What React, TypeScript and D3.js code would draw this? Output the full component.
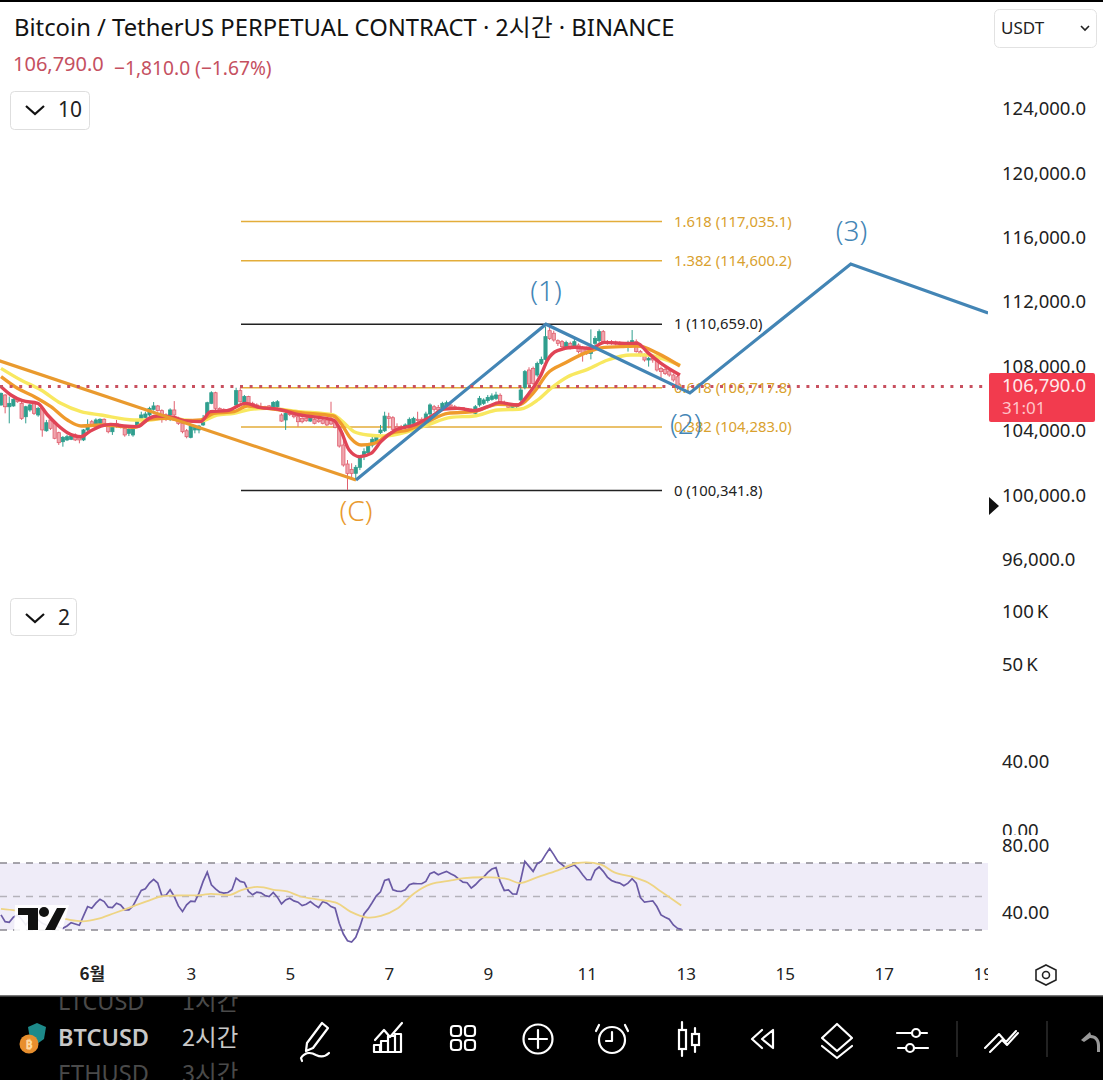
import React from "react";
import * as d3 from "d3";

const opens = [105650,106270,105540,105590,106060,105750,104920,105340,105750,105030,105440,104050,104720,104510,103930,103370,103480,103520,103790,103680,103480,104100,104610,104410,104510,104760,104340,103990,104510,104410,104200,103890,103790,104340,104820,104880,105030,105380,105590,105300,105030,105030,105340,104720,104510,104050,103640,104100,104100,104410,104880,105750,106410,105440,105380,105300,105300,105650,106540,105750,106170,105750,105650,105540,105540,105590,105540,105540,105030,104720,105170,105030,104920,104820,104820,104650,104760,104720,104720,104720,104720,104610,104200,103165,101985,101654,101410,101780,102440,102690,103160,103370,103930,104050,104920,104860,104300,104300,104260,104410,104510,104760,104760,104820,105090,105540,105500,105440,105540,105650,105540,105500,105480,105420,105380,105130,105650,105750,105920,106000,106060,106250,105790,105650,105500,105540,105960,106740,107820,107920,107510,108230,108480,110260,110100,109640,109580,109230,109475,109270,109370,109230,109165,108850,109475,109640,110200,109580,109580,109560,109520,109475,109370,109435,109580,108960,108750,108440,108544,108440,107920,107860,107760,107510,107400];
const closes = [106370,105540,105750,106000,105850,104820,105540,105650,105130,105440,104100,104550,104200,103580,103310,103640,103680,103720,103480,103480,104100,104410,104410,104720,104760,104510,103990,104260,104300,104260,103790,104140,104140,104610,105030,105090,105440,105590,105300,105030,104880,105340,105030,104510,103990,103680,104340,104300,104340,104820,105790,106410,105440,105230,105230,105210,105170,106540,105850,106170,105650,105540,105540,105440,105440,105440,105810,105850,104650,105130,105050,104920,104610,104610,104670,104820,104510,104610,104510,104410,104470,104260,103100,101923,101406,101406,101780,102340,102750,103100,103520,103640,104090,104960,104820,104140,104200,104200,104410,104760,104820,104680,104610,105090,105650,105380,105340,105750,105790,105540,105460,105440,105420,105380,105340,105540,106060,105960,106120,106210,106270,105850,105710,105500,105650,105650,106580,107720,106950,106990,108230,108480,109890,109780,109680,109475,109270,109520,109160,109580,108960,108850,108850,109060,109785,110200,109580,109475,109475,109435,109410,109410,109520,109640,108960,108750,108440,108544,108440,107820,107720,107610,107510,107200,106790];
const highs = [106420,106320,106170,106060,106120,105850,105600,105750,105800,105540,105500,104720,104820,104610,103990,103720,103790,103890,103890,103720,104160,104760,104720,104820,104820,104820,104410,104340,104720,104470,104280,104200,104200,104720,105230,105230,105540,105830,105650,105380,105130,105440,105890,104920,104610,104160,104410,104410,104410,105030,105850,106500,106470,105500,105440,105340,105340,106720,106720,106270,106220,105850,105750,105790,105600,105650,105890,105950,105130,105300,105300,105090,105030,104880,104880,104920,104820,104800,104820,104820,105850,104720,104300,103889,102234,102030,101920,102540,102960,103270,103680,103780,104410,105230,105170,104960,104510,104410,104510,104880,104920,105230,104880,105230,105750,105650,105650,105850,105920,105790,105650,105540,105520,105460,105420,105650,106210,106060,106270,106370,106470,106370,105920,105750,105750,105750,106820,107820,107990,108030,108340,108650,110510,110510,110260,109720,109680,109640,109580,109780,109470,109310,109270,110340,109930,110340,110300,109680,109680,109640,109600,109560,109640,110300,109720,109060,108850,108650,108650,108544,108030,108000,107860,107610,107510];
const lows = [105600,105130,104510,105540,105790,104720,104510,105230,105030,104920,103680,103990,104100,103520,103170,103060,103410,103470,103410,103270,103410,104030,104340,104340,104410,104450,103890,103790,104240,104200,103680,103720,103680,104280,104720,104820,104920,105300,105230,104550,104650,104650,104950,104410,103890,103580,103580,103890,103890,104340,104820,105700,105340,105130,105130,105130,105130,105590,105790,105650,105590,105440,105400,105340,105380,105380,105440,105440,104610,104100,104960,104820,104300,104510,104610,104610,104450,104550,104450,104340,104400,104200,103000,101820,100371,101100,100990,101610,102230,102540,103020,103270,103850,103970,104200,104050,104090,103990,104090,104300,104410,104610,104510,104720,104960,105230,105230,105340,105440,105440,105400,105380,105360,105340,105300,105030,105540,105650,105790,105920,105960,105750,105630,105400,105400,105440,105850,106620,106870,106890,107400,108130,108400,109680,109580,109310,109160,109100,109100,109160,108850,108340,108750,108480,109370,109520,109475,109390,109390,109350,109340,109340,108960,109310,108900,108650,108340,108030,108270,107720,107300,107510,107400,107090,106580];

const maRedIdx = [0,2.4,5.2,8.9,11.3,13.7,16.1,19.4,21.4,24.2,26.6,29.8,33.1,35.9,37.9,41.9,44.4,48.4,50.8,54.8,59.3,62.9,66.9,72.6,80.6,82.3,84.4,86.9,89.7,92.1,95.4,100.2,104.2,107.5,110.7,114.7,118,120.8,125.2,127.7,130.9,132.5,134.9,139,143,146.3,151.1,154.3,156.8,160,164.6];
const maRed = [106785,106270,105916,105750,105027,104406,103930,103682,103992,104344,104447,104344,104303,104820,104965,104882,104675,104613,105234,105296,105751,105482,105399,105027,104716,104096,102854,102440,102647,103372,104054,104406,104923,105399,105440,105296,105544,105792,105647,106268,107510,108440,109020,109227,109165,109537,109475,109475,108896,108234,107510];
const maOrangeIdx = [0,4,8.1,12.1,16.1,19.4,24.2,28.2,32.3,36.3,40.3,44.4,48.4,51.6,56.5,59.7,64.5,72.6,80.6,82.4,84.8,87.3,90.5,94.5,98.6,103.4,108.3,114.7,120.4,125.2,129.3,132.5,136.6,141.4,146.3,150.3,154.3,159.2,164.6];
const maOrange = [107406,106682,106165,105544,104716,104344,104406,104344,104261,104778,104820,104675,104716,105130,105234,105585,105441,105172,104965,104509,103578,103165,103268,103889,104096,104613,105130,105234,105689,105647,106475,107613,108234,108854,109227,109268,109310,108854,108068];
const maYellowIdx = [0,4.8,9.7,14.5,19.4,24.2,32.3,36.3,40.3,44.4,48.4,52.4,56.5,60.5,64.5,72.6,80.6,82.4,85.6,88.9,92.9,98.6,103.4,109.1,114.7,120.4,126,130.1,133.3,137.4,142.2,147.1,152.7,156.8,160,164.6];
const maYellow = [107923,107199,106579,105751,105234,105027,104716,104716,104882,104716,104654,105027,105130,105378,105441,105234,105027,104716,103992,103785,103723,103992,104406,104882,104965,105337,105399,105958,106682,107406,107861,108440,108751,108751,108544,108130];

const rsiValues = [39,35,34.6,37.6,39,36.4,33,36,37,36,34,33,32.4,34,31.6,31,32.4,34.4,33.6,32.8,38.4,44,43,46,48.4,47,43.6,43.4,46,45,42,42,44.4,49,53.6,54.6,58,60.2,58,50.4,50.8,54,50,44.4,41,45,47.2,47,52,59,64.6,57,54.6,52.6,52,52.4,54,61,59,58.4,53,51,52.6,52.2,50.6,50,52.4,49.6,45.6,48,49,47.4,46.6,44.6,45.4,47,45,43.4,47,46,44,43,34,27.6,23.6,22.8,25.6,32,39.6,42.6,46.4,50.4,52.8,59.6,60.4,54,53.2,53,54,57,57.8,57.6,57.6,59,63.6,64.6,63,64,65,63.6,62.4,60.4,58.6,58.2,55,57,59.6,61.6,64.4,66.4,67.2,59,53.6,54,51.6,51.4,60,71,68,65,69.6,71,75,78.6,75,71,69,67,68,68.8,66.4,63,60,60,65.6,67.6,65,61.6,59.6,58.6,58,56.4,58,60.6,58,49.4,46.6,47,47.4,44,39,37.6,36.4,33,31,30.4];
const rsiMaIdx = [0,3.6,8,15.3,19.8,23.4,27.4,32.3,36.3,38.7,42.7,48.4,50.8,55.6,58.1,61.3,63.7,66.1,69.4,72.6,77.4,81.5,84.7,88.9,92.1,96.2,100.2,104.2,109.1,112.3,118.8,122.8,125.7,130.1,135,139.8,145.5,148.7,153.5,156.8,160,164.9];
const rsiMa = [42.6,41.6,39.6,36.6,35.2,36.6,40,44.4,48,50,50.6,50.8,51.6,51,53.6,55.6,55.4,54,53,50,48,46,41,37.4,38.4,43,52,57.4,59.6,61,61.4,60.4,58,61.6,65.6,70,69,64.4,61.4,58.4,53,44.6];

const fibLevels = [0,0.382,0.618,1,1.382,1.618];
const fibPrices = [100341.8,104283.0,106717.8,110659.0,114600.2,117035.1];
const orangeWaveIdx = [-1,86.06];
const orangeWave = [108440,100994];
const blueWaveIdx = [86.06,132.1,167,206,239.3];
const blueWave = [100994,110659,106393,114399,111357];
const waveLabels = ["(C)","(1)","(2)","(3)"];
const waveLabelIdx = [86.06,132.1,166,206.2];
const waveLabelPrices = [99040,112710,104470,116470];
const priceTicks = [124000,120000,116000,112000,108000,104000,100000,96000];
const rsiBands = [70,50,30];
const rsiTicks = [80,40];
const dayLabels = ["6월","3","5","7","9","11","13","15","17","19"];
const dayIdx = [22,46,70,94,118,142,166,190,214,238];
const lastPrice = 106790;

const x = d3.scaleLinear().domain([0, 165]).range([1, 1 + 4.125 * 165]);
const y = d3.scaleLinear().domain([100341.8, 117035.1]).range([490.5, 221.5]);
const yRsi = d3.scaleLinear().domain([30, 70]).range([930, 863]);

const FONT = "'Noto Sans','Noto Sans CJK KR',sans-serif";
const CJK = "'Noto Sans CJK KR','Noto Sans',sans-serif";
const UP = "#2f9e8e";
const DOWN = "#e0606f";
const GOLD = "#e3ad3a";
const GOLDTX = "#d9a12e";
const BLUE = "#4385b5";

function series(idx: number[], vals: number[], scale: (v: number) => number, curve = d3.curveMonotoneX) {
  return d3.line<number>().x((_, i) => x(idx[i])).y((v) => scale(v)).curve(curve)(vals) || "";
}
const seq = (n: number) => d3.range(n);

function Chevron({ cx, cy }: { cx: number; cy: number }) {
  return <path d={`M${cx - 9} ${cy - 4}L${cx} ${cy + 4}L${cx + 9} ${cy - 4}`} fill="none" stroke="#111" strokeWidth={2.2} />;
}

const S = { fill: "none", stroke: "#fff", strokeWidth: 2.2, strokeLinecap: "round" as const, strokeLinejoin: "round" as const };

function Toolbar() {
  return (
    <g>
      <rect x={0} y={996} width={1103} height={84} fill="#000" />
      <rect x={0} y={995} width={1103} height={1.5} fill="#777" />
      <g fontFamily={FONT} fontSize={23.5} clipPath="url(#bar)">
        <text x={58} y={1010} fill="#4a4a4a">LTCUSD</text>
        <text x={182} y={1010} fill="#4a4a4a" fontFamily={CJK}>1시간</text>
        <text x={58} y={1046} fill="#c8c8c8" fontWeight={600}>BTCUSD</text>
        <text x={182} y={1046} fill="#c8c8c8" fontFamily={CJK}>2시간</text>
        <text x={58} y={1082} fill="#4a4a4a">ETHUSD</text>
        <text x={182} y={1082} fill="#4a4a4a" fontFamily={CJK}>3시간</text>
      </g>
      <path d="M37 1023l9 4-2 12-7 5-7-5-2-12z" fill="#1d8a8a" />
      <circle cx={29} cy={1044} r={9.5} fill="#e88f2e" />
      <text x={29} y={1049} fontSize={13} fontFamily={FONT} fill="#ffd9a0" textAnchor="middle" fontWeight={700}>₿</text>
      <path {...S} d="M322 1023l6 5-15 20-7 3 1-8z M301 1058c4-6 10-6 15-3 4 2 9 2 13-2 M301 1058l1 3" />
      <path {...S} d="M375 1040l9-10 6 7 12-14 M374 1052v-7h6v7z M381 1052v-11h7v11z M388 1052v-16h7v16z M395 1052v-18h6v18z" />
      <rect {...S} x={451} y={1026} width={10} height={10} rx={3} /><rect {...S} x={465} y={1026} width={10} height={10} rx={3} />
      <rect {...S} x={451} y={1040} width={10} height={10} rx={3} /><rect {...S} x={465} y={1040} width={10} height={10} rx={3} />
      <circle {...S} cx={538} cy={1039} r={14.5} /><path {...S} d="M529 1039h18M538 1030v18" />
      <circle {...S} cx={612} cy={1040} r={13} /><path {...S} d="M612 1032v9h-6 M599 1025l-3 6 M625 1025l3 6" />
      <path {...S} d="M682 1022v34 M695 1028v24" /><rect x={679} y={1030} width={7} height={19} fill="#000" stroke="#fff" strokeWidth={2.2} /><rect x={692} y={1034} width={7} height={11} fill="#000" stroke="#fff" strokeWidth={2.2} />
      <path {...S} d="M762 1030l-10 9 10 9 M773 1030l-11 9 11 9 M773 1030v18" />
      <path {...S} d="M837 1024l15 14-15 13-15-13z M822 1046l15 12 15-12" />
      <path {...S} d="M897 1033h14 M921 1033h6 M898 1048h7 M914 1048h14" /><circle {...S} cx={916} cy={1033} r={4} /><circle {...S} cx={910} cy={1048} r={4} />
      <rect x={956.5} y={1021} width={1} height={36} fill="#444" />
      <path {...S} d="M985 1048l14-14 7 8 10-11 M990 1052l12-12 5 5 11-12" strokeWidth={2} />
      <rect x={1046.5} y={1021} width={1} height={36} fill="#444" />
      <path d="M1090 1032l-9 8 3 2 6-4c5 0 7 3 7 8v6h3v-7c0-6-4-10-9-10z" fill="#999" />
    </g>
  );
}

export default function App() {
  const clipId = "pane";
  return (
    <svg width={1103} height={1080} viewBox="0 0 1103 1080" style={{ position: "fixed", left: 0, top: 0, background: "#fff" }} fontFamily={FONT}>
      <defs>
        <clipPath id={clipId}><rect x={0} y={0} width={988} height={990} /></clipPath>
        <clipPath id="vol"><rect x={990} y={740} width={113} height={95} /></clipPath>
        <clipPath id="bar"><rect x={0} y={997} width={1103} height={83} /></clipPath>
      </defs>
      <rect x={0} y={0} width={1103} height={2} fill="#000" />

      <g clipPath={`url(#${clipId})`}>
        <rect x={0} y={yRsi(70)} width={988} height={yRsi(30) - yRsi(70)} fill="#efecf8" />
        {rsiBands.map((b, i) => (
          <line key={b} x1={0} x2={988} y1={yRsi(b)} y2={yRsi(b)} stroke={i === 1 ? "#b5b2ba" : "#8b8890"} strokeWidth={1.3} strokeDasharray="7 6" />
        ))}
        <path d={series(seq(rsiValues.length), rsiValues, yRsi, d3.curveLinear)} fill="none" stroke="#6a5aa5" strokeWidth={1.7} />
        <path d={series(rsiMaIdx, rsiMa, yRsi, d3.curveCatmullRom)} fill="none" stroke="#eed483" strokeWidth={1.8} />

        <g>
          <path d="M15 905h54l-8 30H14z" fill="#fff" opacity={0.9} />
          <path d="M18 908h20v22H28v-15H18z M57 908h9l-11 22H45z" fill="#111" />
          <circle cx={44} cy={912} r={5} fill="#111" />
        </g>

        {fibPrices.map((p, i) => {
          const black = fibLevels[i] === 0 || fibLevels[i] === 1;
          return (
            <g key={p}>
              <line x1={241} x2={662} y1={y(p)} y2={y(p)} stroke={black ? "#222" : GOLD} strokeWidth={1.5} />
              <text x={674} y={y(p) + 5} fontSize={14.8} fill={black ? "#222" : GOLDTX}>
                {fibLevels[i]} ({d3.format(",.1f")(p)})
              </text>
            </g>
          );
        })}

        {closes.map((c, i) => {
          const up = c >= opens[i];
          const top = y(Math.max(c, opens[i]));
          const h = Math.max(1, Math.abs(y(c) - y(opens[i])));
          return (
            <g key={i}>
              <line x1={x(i)} x2={x(i)} y1={y(highs[i])} y2={y(lows[i])} stroke={up ? UP : DOWN} strokeWidth={1} />
              <rect x={x(i) - 1.6} y={top} width={3.2} height={h} fill={up ? UP : "#f0a6ae"} stroke={up ? UP : DOWN} strokeWidth={0.8} />
            </g>
          );
        })}

        <path d={series(maYellowIdx, maYellow, y)} fill="none" stroke="#f8e860" strokeWidth={3.4} />
        <path d={series(maOrangeIdx, maOrange, y)} fill="none" stroke="#ef9a2c" strokeWidth={3.4} />
        <path d={series(maRedIdx, maRed, y)} fill="none" stroke="#e04456" strokeWidth={3.4} />

        <path d={series(orangeWaveIdx, orangeWave, y, d3.curveLinear)} fill="none" stroke="#e99a2e" strokeWidth={3.2} />
        <path d={series(blueWaveIdx, blueWave, y, d3.curveLinear)} fill="none" stroke={BLUE} strokeWidth={3.2} />
        {waveLabels.map((t, i) => (
          <text key={t} x={x(waveLabelIdx[i])} y={y(waveLabelPrices[i]) + 10} fontSize={28} textAnchor="middle" fill={i === 0 ? "#e99a2e" : BLUE} fontWeight={300}>{t}</text>
        ))}

        <line x1={0} x2={988} y1={y(lastPrice)} y2={y(lastPrice)} stroke="#c8505f" strokeWidth={3} strokeDasharray="3 6.6" />

        {dayLabels.map((d, i) => (
          <text key={d} x={x(dayIdx[i]) + 0.6} y={980} fontSize={17} textAnchor="middle" fill="#222" fontFamily={i === 0 ? CJK : FONT} fontWeight={i === 0 ? 700 : 400}>{d}</text>
        ))}
      </g>

      <g fontSize={18.5} fill="#222">
        {priceTicks.map((t) => (
          <text key={t} x={1002} y={y(t) + 5.8}>{d3.format(",.1f")(t)}</text>
        ))}
        <text x={1002} y={618}>100{"\u2009"}K</text>
        <text x={1002} y={671}>50{"\u2009"}K</text>
        <text x={1002} y={768}>40.00</text>
        <text x={1002} y={837} clipPath="url(#vol)">0.00</text>
        {rsiTicks.map((t) => (
          <text key={t} x={1002} y={yRsi(t) + 6}>{d3.format(".2f")(t)}</text>
        ))}
      </g>
      <rect x={989} y={373} width={106} height={49} rx={2} fill="#f23b4e" />
      <text x={1002} y={392} fontSize={18.5} fill="#ffe9ea">106,790.0</text>
      <text x={1002} y={414} fontSize={17} fill="#ffc4c9">31:01</text>
      <path d="M989 497l10 9-10 9z" fill="#111" />
      <path d="M1046 965l10 5v10l-10 5-10-5v-10z" fill="none" stroke="#222" strokeWidth={1.6} />
      <circle cx={1046} cy={975} r={3.5} fill="none" stroke="#222" strokeWidth={1.6} />

      <text x={14} y={36} fontSize={23.8} fill="#131313">Bitcoin / TetherUS PERPETUAL CONTRACT · <tspan fontFamily={CJK}>2시간</tspan> · BINANCE</text>
      <text x={13} y={71} fontSize={20} fill="#c5505f">106,790.0</text>
      <text x={114} y={75} fontSize={19.2} fill="#c5505f">−1,810.0 (−1.67%)</text>
      <rect x={994.5} y={9.5} width={102} height={38} rx={5} fill="#fff" stroke="#e2e2e2" />
      <text x={1001} y={34} fontSize={17} fill="#222">USDT</text>
      <path d="M1081 26l4 4 4-4" fill="none" stroke="#222" strokeWidth={1.6} />
      <rect x={10.5} y={91.5} width={79} height={38} rx={4} fill="#fff" stroke="#dedede" />
      <Chevron cx={35} cy={110} />
      <text x={58} y={117} fontSize={21} fill="#222">10</text>
      <rect x={10.5} y={598.5} width={66} height={37} rx={4} fill="#fff" stroke="#dedede" />
      <Chevron cx={35} cy={618} />
      <text x={58} y={625} fontSize={21} fill="#222">2</text>

      <Toolbar />
    </svg>
  );
}
